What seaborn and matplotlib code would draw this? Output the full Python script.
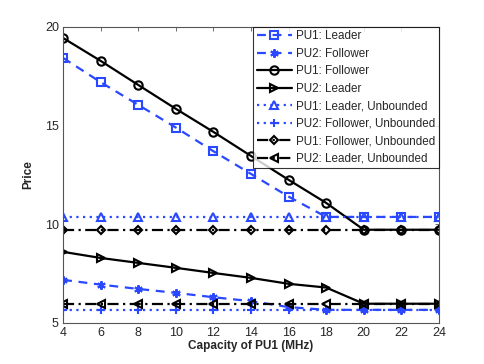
import numpy as np
import pandas as pd
import matplotlib
matplotlib.use("Agg")
import matplotlib.pyplot as plt
import seaborn as sns

capacity = [4, 6, 8, 10, 12, 14, 16, 18, 20, 22, 24]

pu1_leader = [18.43, 17.2, 16.05, 14.9, 13.7, 12.55, 11.4, 10.37, 10.37, 10.37, 10.37]
pu2_follower = [7.18, 6.94, 6.72, 6.52, 6.3, 6.1, 5.8, 5.66, 5.66, 5.66, 5.66]
pu1_follower = [19.44, 18.28, 17.06, 15.85, 14.68, 13.46, 12.25, 11.08, 9.72, 9.72, 9.72]
pu2_leader = [8.6, 8.29, 8.04, 7.79, 7.53, 7.28, 6.98, 6.79, 5.97, 5.97, 5.97]
pu1_leader_unb = [10.37] * 11
pu2_follower_unb = [5.66] * 11
pu1_follower_unb = [9.72] * 11
pu2_leader_unb = [5.97] * 11

labels = ["PU1: Leader", "PU2: Follower", "PU1: Follower", "PU2: Leader",
          "PU1: Leader, Unbounded", "PU2: Follower, Unbounded",
          "PU1: Follower, Unbounded", "PU2: Leader, Unbounded"]

blue = "#2a48ff"
styles = [
    (pu1_leader, blue, (0, (4, 3)), "s"),
    (pu2_follower, blue, (0, (4, 3)), (6, 2, 0)),
    (pu1_follower, "black", "-", "o"),
    (pu2_leader, "black", "-", ">"),
    (pu1_leader_unb, blue, (0, (1, 2)), "^"),
    (pu2_follower_unb, blue, (0, (1, 2)), "+"),
    (pu1_follower_unb, "black", (0, (5, 2, 1, 2)), "D"),
    (pu2_leader_unb, "black", (0, (5, 2, 1, 2)), "<"),
]

sns.set_style("white")
plt.rcParams["font.family"] = ["Liberation Sans", "DejaVu Sans"]

fig = plt.figure(figsize=(4.85, 3.64), dpi=100)
ax = fig.add_axes([0.13, 0.113, 0.775, 0.813])

for (vals, col, ls, mk), lab in zip(styles, labels):
    msize = 4.5 if mk == "D" else 6
    sns.lineplot(x=capacity, y=vals, ax=ax, color=col, linestyle=ls, marker=mk,
                 markersize=msize, markerfacecolor="none", markeredgecolor=col,
                 markeredgewidth=1.5, linewidth=1.6, label=lab)

ax.set_xlim(4, 24)
ax.set_ylim(5, 20)
ax.set_xticks(capacity)
ax.set_yticks([5, 10, 15, 20])
ax.tick_params(direction="in", top=True, right=True, labelsize=9, length=3, width=0.6,
               color="#555555", pad=3)
for sp in ax.spines.values():
    sp.set_color("#555555")
    sp.set_linewidth(0.8)

ax.set_xlabel("Capacity of PU1 (MHz)", fontsize=8.5, fontweight="bold", labelpad=1)
ax.set_ylabel("Price", fontsize=8.5, fontweight="bold", labelpad=8)

leg = ax.legend(loc="upper right", fontsize=8.4, handlelength=3.0, borderaxespad=0,
                fancybox=False, frameon=True, labelspacing=0.47, borderpad=0.3,
                handletextpad=0.4)
leg.get_frame().set_edgecolor("black")
leg.get_frame().set_linewidth(0.8)

fig.savefig("out.png", dpi=100)
